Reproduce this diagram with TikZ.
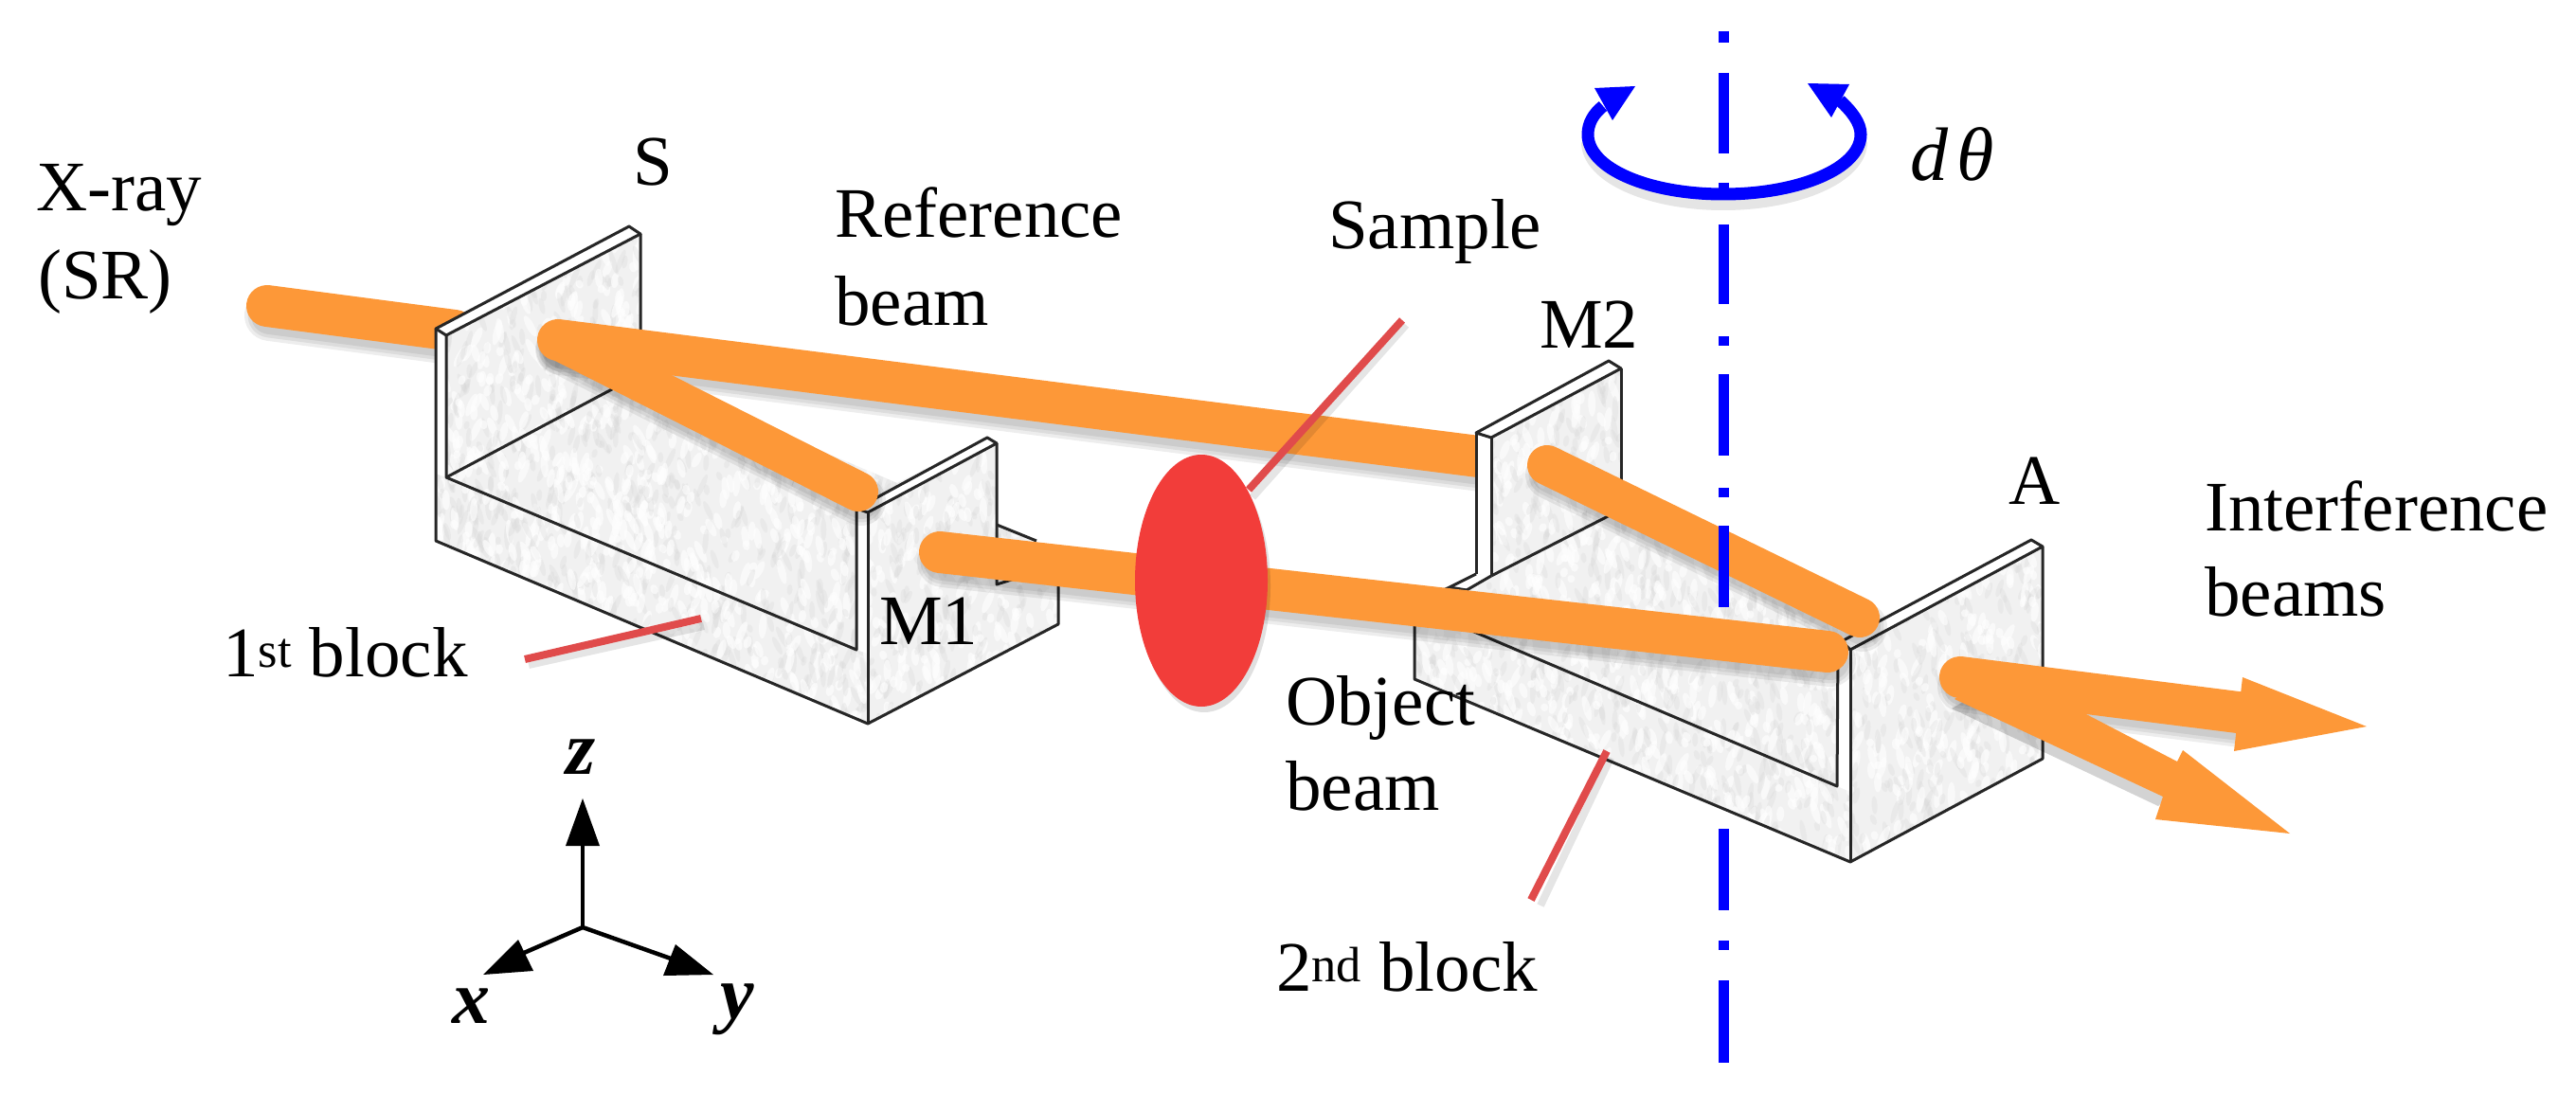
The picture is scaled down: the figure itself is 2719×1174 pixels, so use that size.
\documentclass[tikz,border=0pt]{standalone}
\usepackage{fontspec}
\setmainfont{Liberation Serif}
\usetikzlibrary{calc}
\definecolor{beamc}{HTML}{FD9838}
\definecolor{blockc}{HTML}{F1F1F1}
\definecolor{blotc}{HTML}{D8D8D8}
\definecolor{redl}{HTML}{E04B4B}
\definecolor{redf}{HTML}{F23D3A}
\tikzset{
  edgeline/.style={draw=black!85,line width=3pt,line join=round},
  stripfill/.style={fill=white},
  beamline/.style={draw=beamc,line width=44pt,line cap=round},
  pointer/.style={draw=redl,line width=8pt},
  axisdash/.style={draw=blue,line width=11pt},
  label/.style={font=\fontsize{75}{90}\selectfont,inner sep=0pt,anchor=base west},
  axislabel/.style={font=\fontsize{80}{90}\selectfont\bfseries\itshape,inner sep=0pt},
  axisline/.style={draw=black,line width=4.5pt},
  ghost/.style={draw=black,opacity=.07}
}
\newcommand\softbeam[3]{%
  \draw[ghost,line width=#3+10pt,line cap=round] ($#1+(3,10)$) -- ($#2+(3,10)$);
  \draw[ghost,line width=#3+3pt,line cap=round] ($#1+(3,10)$) -- ($#2+(3,10)$);
  \draw[ghost,line width=#3-4pt,line cap=round] ($#1+(3,10)$) -- ($#2+(3,10)$);
}
\newcommand\speckle[5]{%
  \foreach \i in {1,...,#5}{%
    \pgfmathsetmacro\sx{#1+rnd*#3}%
    \pgfmathsetmacro\sy{#2+rnd*#4}%
    \pgfmathsetmacro\ro{-30+60*rnd}%
    \pgfmathsetmacro\ra{4+10*rnd}%
    \fill[white,opacity=.6] (\sx,\sy) ellipse[x radius=4,y radius=\ra,rotate=\ro];
    \pgfmathsetmacro\tx{#1+rnd*#3}%
    \pgfmathsetmacro\ty{#2+rnd*#4}%
    \fill[blotc,opacity=.3] (\tx,\ty) ellipse[x radius=3,y radius=\ra,rotate=\ro];
  }%
}
\begin{document}
\begin{tikzpicture}[x=1pt,y=-1pt]
\useasboundingbox (0,0) rectangle (2719,1174);
\fill[white] (0,0) rectangle (2719,1174);
\pgfmathsetseed{11}

\coordinate (xs) at (282,323);
\coordinate (xe) at (480,349);
\coordinate (rs) at (589,359);
\coordinate (re) at (1600,487);
\coordinate (me) at (906,519);
\coordinate (os) at (992,583);
\coordinate (oe) at (1929,688);
\coordinate (ms) at (1633,491);
\coordinate (ae) at (1963,652);
\coordinate (a1s) at (2069,715);
\coordinate (a1e) at (2362,752);

% incoming beam, behind block 1
\softbeam{(xs)}{(xe)}{44}
\draw[beamline] (xs) -- (xe);

% block 1
\path[fill=blockc] (460,347) -- (664,239) -- (676,247) -- (676,395) -- (947,510) -- (1042,462) -- (1052,468) -- (1052,554) -- (1117,583) -- (1117,659) -- (916,764) -- (460,571) -- cycle;
\begin{scope}
\clip (460,347) -- (664,239) -- (676,247) -- (676,395) -- (947,510) -- (1042,462) -- (1052,468) -- (1052,554) -- (1117,583) -- (1117,659) -- (916,764) -- (460,571) -- cycle;
\speckle{460}{239}{660}{525}{1500}
\end{scope}
\fill[stripfill] (460,347) -- (664,239) -- (676,247) -- (471,354) -- cycle;
\fill[stripfill] (460,347) -- (471,354) -- (471,504) -- (460,500) -- cycle;
\fill[stripfill] (904,537) -- (1042,462) -- (1052,468) -- (916,541) -- cycle;
\fill[stripfill] (904,537) -- (916,541) -- (916,690) -- (904,686) -- cycle;
\draw[edgeline] (460,347) -- (664,239) -- (676,247) -- (471,354) -- cycle;
\draw[edgeline] (460,347) -- (460,571) -- (916,764) -- (1117,659) -- (1117,583);
\draw[edgeline] (471,354) -- (471,504) -- (904,686) -- (904,537);
\draw[edgeline] (471,504) -- (676,395) -- (676,247);
\draw[edgeline] (916,541) -- (916,764);
\draw[edgeline] (904,537) -- (1042,462) -- (1052,468) -- (916,541) -- cycle;
\draw[edgeline] (1052,468) -- (1052,617) -- (1071,611);
\draw[edgeline] (1052,554) -- (1094,571);

% beams on block 1
\softbeam{(rs)}{(re)}{44}
\softbeam{(rs)}{(me)}{42}
\draw[beamline] (rs) -- (re);
\draw[beamline,line width=42pt] (rs) -- (me);

% block 2
\path[fill=blockc] (1493,637) -- (1530,620) -- (1558,606) -- (1558,457) -- (1698,381) -- (1711,389) -- (1711,538) -- (1982,658) -- (2144,570) -- (2156,577) -- (2156,801) -- (1953,910) -- (1493,717) -- cycle;
\begin{scope}
\clip (1493,637) -- (1530,620) -- (1558,606) -- (1558,457) -- (1698,381) -- (1711,389) -- (1711,538) -- (1982,658) -- (2144,570) -- (2156,577) -- (2156,801) -- (1953,910) -- (1493,717) -- cycle;
\speckle{1493}{381}{665}{530}{1500}
\end{scope}
\fill[stripfill] (1558,457) -- (1698,381) -- (1711,389) -- (1574,462) -- cycle;
\fill[stripfill] (1558,457) -- (1574,462) -- (1574,608) -- (1558,606) -- cycle;
\fill[stripfill] (1530,620) -- (1558,606) -- (1574,608) -- (1548,623) -- cycle;
\fill[stripfill] (1944,677) -- (2144,570) -- (2156,577) -- (1953,686) -- cycle;
\fill[stripfill] (1940,680) -- (1953,686) -- (1953,836) -- (1939,830) -- cycle;
\draw[edgeline] (1558,457) -- (1698,381) -- (1711,389) -- (1574,462) -- cycle;
\draw[edgeline] (1558,457) -- (1558,606);
\draw[edgeline] (1574,462) -- (1574,608);
\draw[edgeline] (1711,389) -- (1711,538);
\draw[edgeline] (1574,608) -- (1711,538);
\draw[edgeline] (1530,620) -- (1558,606);
\draw[edgeline] (1548,623) -- (1574,608);
\draw[edgeline] (1530,620) -- (1548,623);
\draw[edgeline] (1530,620) -- (1493,637) -- (1493,717) -- (1953,910) -- (2156,801) -- (2156,577) -- (2144,570) -- (1944,677) -- (1953,686) -- (2156,577);
\draw[edgeline] (1953,686) -- (1953,910);
\draw[edgeline] (1940,680) -- (1939,830) -- (1530,656);

% remaining beams
\softbeam{(os)}{(oe)}{44}
\softbeam{(ms)}{(ae)}{42}
\softbeam{(a1s)}{(a1e)}{44}
\foreach \o in {.06,.06,.06}{
  \fill[black,opacity=\o] (2060,748) -- (2278,851) -- (2300,830) -- (2200,763) -- (2100,725) -- cycle;
}
\draw[beamline,line width=42pt] (ms) -- (ae);
\draw[beamline] (os) -- (oe);
\fill[beamc] (2063,738) -- (2283,841) -- (2275,865) -- (2417,880) -- (2304,792) -- (2298,804) -- (2200,753) -- (2100,715) -- cycle;
\draw[beamline] (a1s) -- (a1e);
\fill[beamc] (2367,715) -- (2498,767) -- (2358,793) -- cycle;

% rotation axis
\foreach \ya/\yb in {33/45,77/162,193/205,237/321,355/365,395/481,515/525,555/641,875/961,993/1003,1035/1122}{
  \draw[axisdash] (1819,\ya) -- (1819,\yb);
}
% rotation arrow
\draw[draw=black,opacity=.1,line width=14pt] (1676,150) .. controls (1676,186) and (1740,215) .. (1819,215) .. controls (1898,215) and (1964,186) .. (1964,150);
\draw[draw=blue,line width=13pt] (1692,112) .. controls (1682,120) and (1676,130) .. (1676,142) .. controls (1676,178) and (1740,205) .. (1819,205) .. controls (1898,205) and (1964,178) .. (1964,142) .. controls (1964,130) and (1955,118) .. (1942,106);
\fill[blue] (1726,91) -- (1683,93) -- (1702,127) -- cycle;
\fill[blue] (1908,88) -- (1952,89) -- (1933,124) -- cycle;

% pointers and sample
\draw[draw=black,opacity=.1,line width=8pt] (1484,343) -- (1322,525);
\draw[pointer] (1480,338) -- (1318,517);
\fill[black,opacity=.12] (1271,619) ellipse[x radius=70,y radius=133];
\path[fill=redf] (1268,613) ellipse[x radius=70,y radius=133];
\draw[draw=black,opacity=.1,line width=8pt] (558,702) -- (743,661);
\draw[pointer] (554,696) -- (740,653);
\draw[draw=black,opacity=.1,line width=8pt] (1700,800) -- (1626,956);
\draw[pointer] (1696,793) -- (1616,950);

% coordinate axes
\coordinate (o) at (615,979);
\coordinate (zt) at (615,893);
\coordinate (xt) at (553,1006);
\coordinate (yt) at (708,1012);
\draw[axisline] (o) -- (zt);
\draw[axisline] (o) -- (xt);
\draw[axisline] (o) -- (yt);
\fill[black] (615,843) -- (633,893) -- (597,893) -- cycle;
\fill[black] (510,1029) -- (547,992) -- (563,1025) -- cycle;
\fill[black] (753,1029) -- (713,997) -- (700,1030) -- cycle;
\node[axislabel] (lz) at (613,799) {z};
\node[axislabel] (lx) at (497,1062) {x};
\node[axislabel] (ly) at (778,1066) {y};

% labels
\node[label] (t1) at (38,223) {X-ray};
\node[label] (t2) at (40,316) {(SR)};
\node[label] (t3) at (668,196) {S};
\node[label] (t4) at (881,251) {Reference};
\node[label] (t5) at (881,343) {beam};
\node[label] (t6) at (1402,262) {Sample};
\node[label] (t7) at (1625,367) {M2};
\node[label] (t8) at (2120,532) {A};
\node[label] (t9) at (2327,560) {Interference};
\node[label] (t10) at (2327,650) {beams};
\node[label] (t11) at (928,680) {M1};
\node[label] (t12) at (235,714) {1\textsuperscript{st} block};
\node[label] (t13) at (1357,765) {Object};
\node[label] (t14) at (1357,855) {beam};
\node[label] (t15) at (1347,1046) {2\textsuperscript{nd} block};
\node[label,font=\fontsize{80}{90}\selectfont\itshape] (t16) at (2016,191) {d\kern9ptθ};
\end{tikzpicture}
\end{document}
